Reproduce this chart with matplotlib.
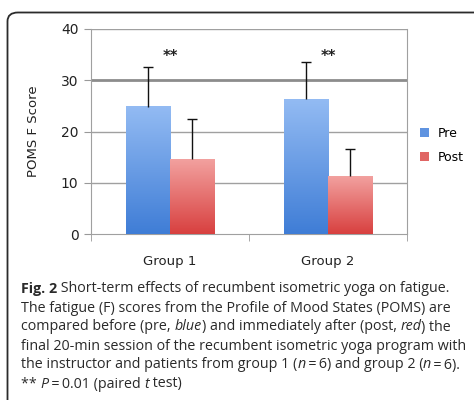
import matplotlib
matplotlib.use("Agg")
import matplotlib.pyplot as plt
import numpy as np
from matplotlib.patches import FancyBboxPatch
from matplotlib.colors import LinearSegmentedColormap

# data
groups = ["Group 1", "Group 2"]
pre_mean = [24.8, 26.3]
pre_err = [7.8, 7.3]
post_mean = [14.6, 11.3]
post_err = [7.8, 5.3]
series = ["Pre", "Post"]
yticks = [0, 10, 20, 30, 40]

caption = [
    [("Fig. 2", "bold"), (" Short-term effects of recumbent isometric yoga on fatigue.", "normal")],
    [("The fatigue (F) scores from the Profile of Mood States (POMS) are", "normal")],
    [("compared before (pre, ", "normal"), ("blue", "italic"), (") and immediately after (post, ", "normal"),
     ("red", "italic"), (") the", "normal")],
    [("final 20-min session of the recumbent isometric yoga program with", "normal")],
    [("the instructor and patients from group 1 (", "normal"), ("n", "italic"), ("\u2009=\u20096) and group 2 (", "normal"),
     ("n", "italic"), ("\u2009=\u20096).", "normal")],
    [("** ", "normal"), ("P", "italic"), ("\u2009=\u20090.01 (paired ", "normal"), ("t", "italic"), (" test)", "normal")],
]

W, H = 474, 400
fig = plt.figure(figsize=(W / 100, H / 100), dpi=100)

# rounded frame running off the right/bottom edge
frame = FancyBboxPatch((7.5 / W, -0.2), 1.2, (H - 12.5) / H + 0.2,
                       boxstyle="round,pad=0,rounding_size=0.022",
                       transform=fig.transFigure, fill=False,
                       edgecolor="#2b2b2b", linewidth=1.3)
fig.patches.append(frame)

ax = fig.add_axes([91 / W, (H - 234) / H, (407 - 91) / W, (234 - 29) / H])

x = np.arange(len(groups))
bw = 0.28
blue_cm = LinearSegmentedColormap.from_list("b", ["#3f7dd6", "#93bbf3"])
red_cm = LinearSegmentedColormap.from_list("r", ["#d8403f", "#f2a19f"])
grad = np.linspace(0, 1, 256).reshape(-1, 1)

pre_bars = ax.bar(x - bw / 2, pre_mean, bw, color="none", edgecolor="none", zorder=3)
post_bars = ax.bar(x + bw / 2, post_mean, bw, color="none", edgecolor="none", zorder=3)
for bars, cm in [(pre_bars, blue_cm), (post_bars, red_cm)]:
    for b in bars:
        x0, w, h = b.get_x(), b.get_width(), b.get_height()
        ax.imshow(grad, extent=[x0, x0 + w, 0, h], origin="lower",
                  aspect="auto", cmap=cm, zorder=3)

for xs, m, e in [(x - bw / 2, pre_mean, pre_err), (x + bw / 2, post_mean, post_err)]:
    eb = ax.errorbar(xs, m, yerr=[np.zeros(len(m)), e], fmt="none",
                     ecolor="#111111", elinewidth=1.0, capsize=3.5, capthick=1.0, zorder=4)
    eb[1][0].remove()  # no cap at the bar top

for xi in x:
    ax.text(xi, 34.7, "**", ha="center", va="center", fontsize=10.5,
            fontweight="bold", color="#222222", family="DejaVu Sans")

for yv in yticks[1:]:
    ax.axhline(yv, color="#8c8c8c" if yv == 30 else "#a0a0a0",
               linewidth=2.0 if yv == 30 else 1.0, zorder=1)

ax.set_xlim(-0.5, 1.5)
ax.set_ylim(0, 40)
ax.set_yticks(yticks)
ax.set_xticks(x)
ax.set_xticklabels(groups)
ax.set_xticks([-0.5, 0.5, 1.5], minor=True)
ax.tick_params(axis="x", which="major", length=0, pad=15, labelsize=9.5, labelcolor="#222222")
ax.tick_params(axis="x", which="minor", length=5, color="#999999", direction="out")
ax.tick_params(axis="y", length=5, color="#999999", labelsize=10, labelcolor="#222222", pad=4)
for s in ["left", "bottom", "right"]:
    ax.spines[s].set_color("#a0a0a0")
ax.spines["top"].set_visible(False)
ax.set_ylabel("POMS F Score", fontsize=9.5, color="#222222", labelpad=15)

handles = [plt.Rectangle((0, 0), 1, 1, facecolor="#5f93e0"),
           plt.Rectangle((0, 0), 1, 1, facecolor="#e06664")]
fig.legend(handles, series, loc="center left", bbox_to_anchor=(420 / W, (H - 145.5) / H),
           frameon=False, fontsize=9, handlelength=0.7, handleheight=0.7,
           handletextpad=0.7, labelspacing=0.9, borderpad=0, borderaxespad=0)

# caption with mixed styles, drawn piece by piece
renderer = fig.canvas.get_renderer()
cap_font = "Open Sans"
cap_size = 10.3


def seg_width(s, style):
    kw = dict(fontsize=cap_size, family=cap_font)
    if style == "bold":
        kw["fontweight"] = "bold"
    if style == "italic":
        kw["fontstyle"] = "italic"
    t1 = fig.text(0, 0, "|" + s + "|", **kw)
    t2 = fig.text(0, 0, "||", **kw)
    w = t1.get_window_extent(renderer).width - t2.get_window_extent(renderer).width
    t1.remove()
    t2.remove()
    return w, kw


line_y = [289, 308, 327, 346, 365, 384]
for segs, ly in zip(caption, line_y):
    px = 21.0
    for s, style in segs:
        w, kw = seg_width(s, style)
        fig.text(px / W, (H - ly) / H, s, va="center", ha="left", color="#2a2a2a", **kw)
        px += w

fig.savefig("out.png", dpi=100)
